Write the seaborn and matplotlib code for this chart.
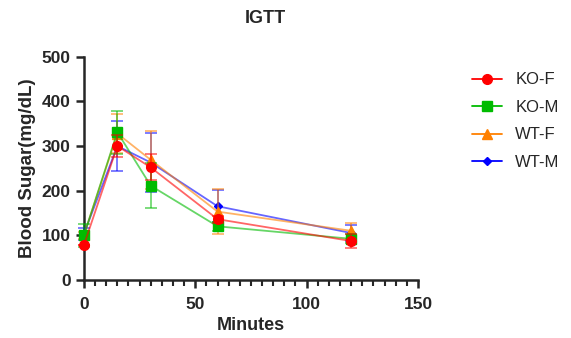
import seaborn as sns
import matplotlib.pyplot as plt
import pandas as pd
from matplotlib.ticker import MultipleLocator

minutes = [0, 15, 30, 60, 120]
groups = ['KO-F', 'KO-M', 'WT-F', 'WT-M']
ko_f = [78, 300, 252, 136, 87]
ko_m = [100, 331, 211, 120, 92]
wt_f = [100, 328, 269, 153, 110]
wt_m = [103, 300, 263, 165, 105]
ko_f_sd = [0, 25, 29, 8, 16]
ko_m_sd = [26, 48, 50, 10, 10]
wt_f_sd = [8, 44, 65, 51, 18]
wt_m_sd = [14, 57, 67, 36, 19]

means = [ko_f, ko_m, wt_f, wt_m]
sds = [ko_f_sd, ko_m_sd, wt_f_sd, wt_m_sd]
colors = ['#ff0000', '#00bb00', '#ff8000', '#0000ff']
markers = ['o', 's', '^', 'D']
sizes = [7, 6.5, 7, 4.5]

rows = []
for g, m, s in zip(groups, means, sds):
    for t, v, e in zip(minutes, m, s):
        rows.append({'Minutes': t, 'Blood': v, 'SD': e, 'Group': g})
df = pd.DataFrame(rows)

sns.set_style('ticks')
plt.rcParams['font.family'] = ['Liberation Sans', 'DejaVu Sans']

fig = plt.figure(figsize=(5.71, 3.38), dpi=100)
ax = fig.add_axes([0.147, 0.172, 0.585, 0.66])

# draw last group first so KO-F ends up on top
n = len(groups)
for i in reversed(range(n)):
    g, c, mk, ms = groups[i], colors[i], markers[i], sizes[i]
    d = df[df.Group == g]
    z = 2 + (n - i) * 2
    ax.errorbar(d.Minutes, d.Blood, yerr=d.SD, fmt='none', ecolor=c, alpha=0.6,
                elinewidth=1.2, capsize=4, capthick=1.2, clip_on=False, zorder=z)
    sns.lineplot(data=d, x='Minutes', y='Blood', color=c, alpha=0.6, lw=1.3, ax=ax,
                 legend=False, clip_on=False, zorder=z)
    ax.plot(d.Minutes, d.Blood, ls='none', marker=mk, color=c, ms=ms, clip_on=False,
            zorder=z + 1)

handles = [plt.Line2D([], [], color=c, marker=mk, ms=ms, lw=1.3,
                      markeredgecolor=c) for c, mk, ms in zip(colors, markers, sizes)]
leg = fig.legend(handles, groups, loc='upper left', bbox_to_anchor=(0.80, 0.83),
                 frameon=False, fontsize=12, handlelength=1.8, labelspacing=0.75)

ax.set_xlim(0, 150)
ax.set_ylim(0, 500)
ax.set_xticks([0, 50, 100, 150])
ax.xaxis.set_minor_locator(MultipleLocator(5))
ax.set_yticks([0, 100, 200, 300, 400, 500])
ax.tick_params(axis='both', which='major', length=6, width=1.8, labelsize=12.5)
ax.tick_params(axis='x', which='major', pad=6)
ax.tick_params(axis='x', which='minor', length=4, width=1.5)
for lab in ax.get_xticklabels() + ax.get_yticklabels():
    lab.set_fontweight('bold')
ax.set_xlabel('Minutes', fontsize=13, fontweight='bold', labelpad=4)
ax.set_ylabel('Blood Sugar(mg/dL)', fontsize=13.5, fontweight='bold', labelpad=4)
sns.despine(ax=ax)
for sp in ['left', 'bottom']:
    ax.spines[sp].set_linewidth(1.8)

fig.text(0.465, 0.945, 'IGTT', ha='center', va='center', fontsize=13, fontweight='bold')

plt.savefig('out.png', dpi=100)
